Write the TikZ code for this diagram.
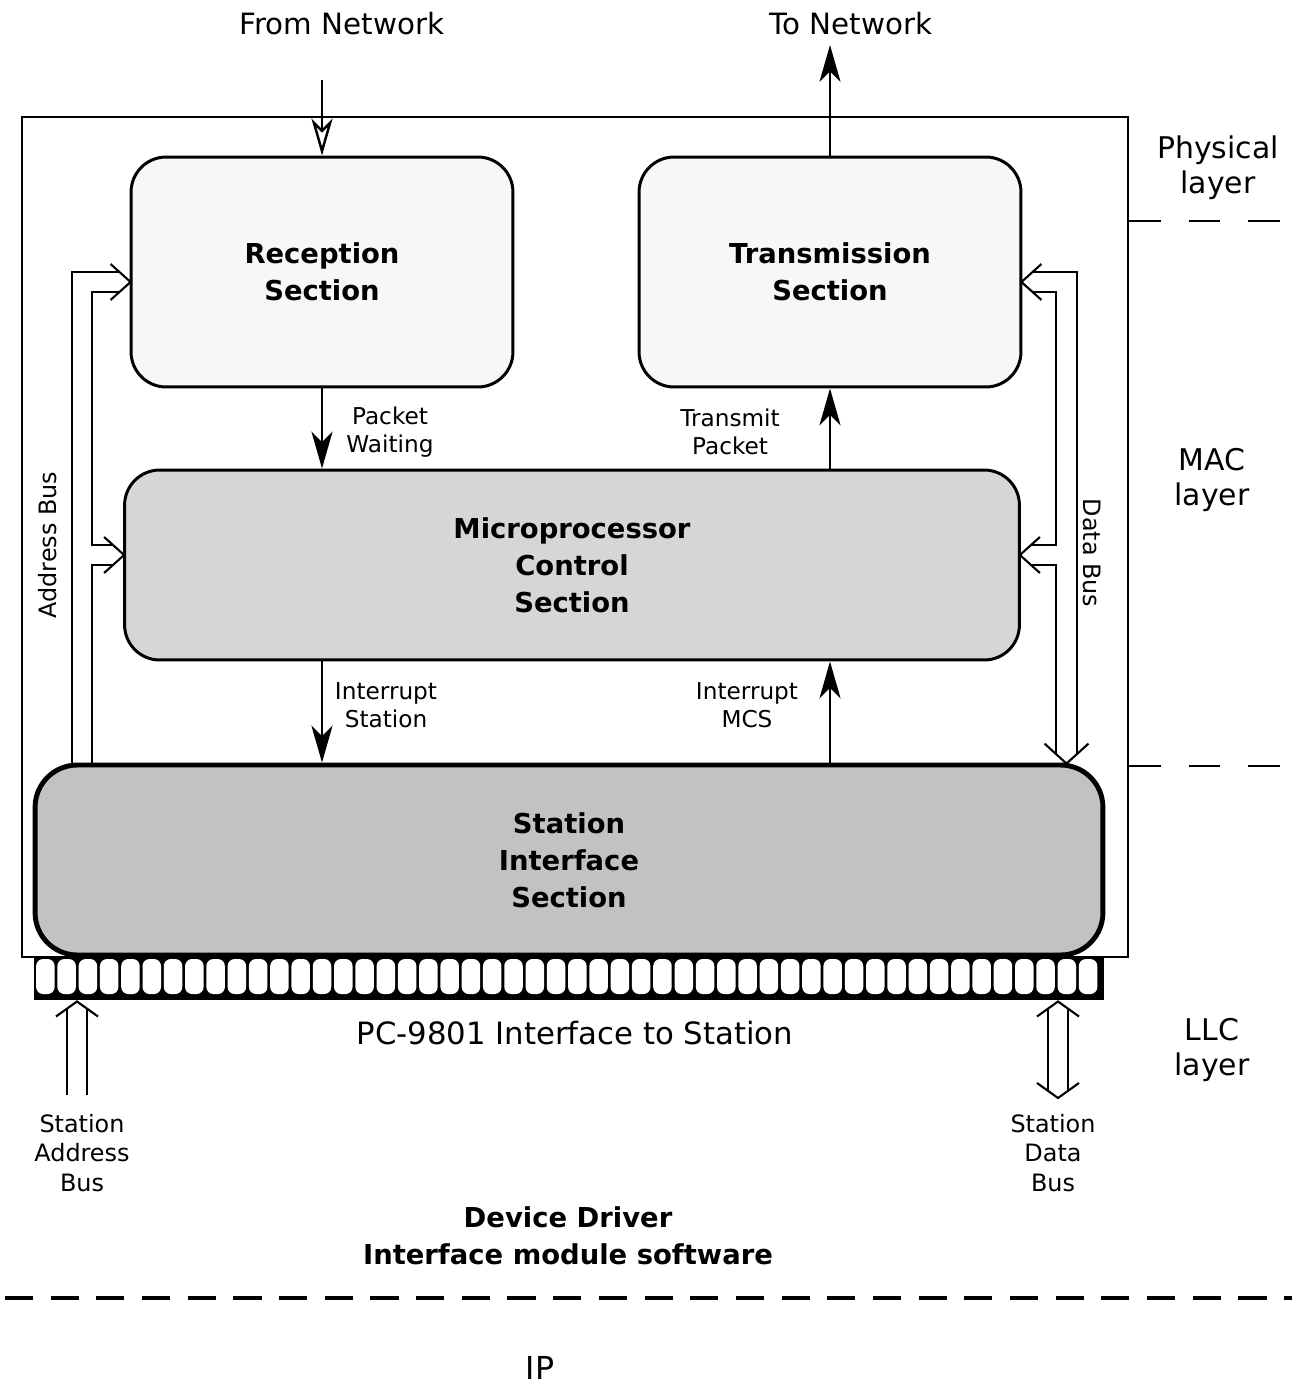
\documentclass[tikz,border=0pt]{standalone}
\usepackage{fontspec}
\setmainfont{DejaVu Sans}
\usepackage{tikz}
\usetikzlibrary{arrows.meta,calc}

\begin{document}
\begin{tikzpicture}[
        x=0.02cm, y=-0.02cm,
        >={Stealth[length=21pt,width=12pt,inset=6pt]},
        % 方框样式定义
        board/.style={draw, line width=1.2pt, minimum width=22.12cm, minimum height=16.8cm},
        section/.style={draw, line width=1.7pt, rounded corners=20pt, align=center, inner sep=0pt,
            font=\bfseries\fontsize{15.6}{21}\selectfont},
        light/.style={section, fill=black!3, minimum width=7.64cm, minimum height=4.6cm},
        % 连线样式定义
        sig/.style={line width=1.4pt},
        bus/.style={line width=1.2pt, line join=miter},
        % 标签样式
        netlabel/.style={font=\fontsize{16.7}{19}\selectfont},
        siglabel/.style={align=center, font=\fontsize{13.2}{15.9}\selectfont},
        layerlabel/.style={align=center, font=\fontsize{17}{20}\selectfont},
        buslabel/.style={align=center, font=\fontsize{13.6}{17}\selectfont},
        sepline/.style={line width=1.2pt, dash pattern=on 18pt off 16pt}
    ]

    \useasboundingbox (0,0) rectangle (1303,1387);

    % 外框与各部分
    \node[board] (board) at (575,537) {};
    \node[light] (rec) at (322,272) {Reception\\Section};
    \node[light] (tra) at (830,272) {Transmission\\Section};
    \node[section, fill=black!16, minimum width=17.9cm, minimum height=3.8cm] (mcs) at (572,565)
        {Microprocessor\\Control\\Section};

    % 接口插座
    \node[draw, line width=1.7pt, fill=black, minimum width=21.36cm, minimum height=0.82cm, inner sep=0pt]
        (conn) at (569,977.5) {};
    \foreach \i in {0,...,49}
        \fill[white, rounded corners=4pt] ($(conn.north west)+({2.5+\i*21.28},3.5)$) rectangle ++(18.5,35);

    \node[section, fill=black!24, line width=2.8pt, rounded corners=24pt, minimum width=21.36cm,
        minimum height=3.8cm] (sis) at (569,860) {Station\\Interface\\Section};

    % 网络收发
    \node[netlabel] (fromnet) at (342,24) {From Network};
    \node[netlabel] (tonet) at (851,24) {To Network};
    \coordinate (fromtop) at (322,80);
    \coordinate (totop) at (830,45);
    \draw[sig, -{Stealth[length=21pt,width=12pt,inset=6pt,fill=white]}] (fromtop) -- (rec.north);
    \draw[sig, ->] (tra.north) -- (totop);

    % 内部信号
    \draw[sig, ->] (rec.south) -- (rec.south |- mcs.north);
    \draw[sig, ->] (tra.south |- mcs.north) -- (tra.south);
    \draw[sig, ->] (rec.south |- mcs.south) -- (rec.south |- sis.north);
    \draw[sig, ->] (tra.south |- sis.north) -- (tra.south |- mcs.south);
    \node[siglabel] (pktwait) at (390,432) {Packet\\Waiting};
    \node[siglabel] (txpkt) at (730,432) {Transmit\\Packet};
    \node[siglabel] (intsta) at (386,705) {Interrupt\\Station};
    \node[siglabel] (intmcs) at (747,705) {Interrupt\\MCS};

    % 地址总线
    \coordinate (ao) at (72,0);
    \coordinate (ai) at (92,0);
    \coordinate (t1) at ($(rec.west)+(1,10)$);
    \coordinate (t2) at ($(mcs.west)+(1,-10)$);
    \coordinate (t1u) at ($(t1)+(-11,-10)$);
    \coordinate (t1l) at ($(t1)+(-11,10)$);
    \coordinate (t2u) at ($(t2)+(-11,-10)$);
    \coordinate (t2l) at ($(t2)+(-11,10)$);
    \draw[bus] ([shift={(-20,-18)}]t1) -- (t1) -- ([shift={(-20,18)}]t1);
    \draw[bus] ([shift={(-20,-18)}]t2) -- (t2) -- ([shift={(-20,18)}]t2);
    \draw[bus] (sis.north -| ao) |- (t1u);
    \draw[bus] (t1l) -| (ai |- t2u) -- (t2u);
    \draw[bus] (t2l) -| (sis.north -| ai);
    \node[buslabel, rotate=90] (abus) at (48,545) {Address Bus};

    % 数据总线
    \coordinate (t3) at ($(tra.east)+(-1,10)$);
    \coordinate (t4) at ($(mcs.east)+(-1,-10)$);
    \coordinate (t5) at ($(sis.north)+(497.5,1)$);
    \coordinate (t3u) at ($(t3)+(11,-10)$);
    \coordinate (t3l) at ($(t3)+(11,10)$);
    \coordinate (t4u) at ($(t4)+(11,-10)$);
    \coordinate (t4l) at ($(t4)+(11,10)$);
    \coordinate (t5o) at ($(t5)+(10.5,-9.5)$);
    \coordinate (t5i) at ($(t5)+(-10.5,-9.5)$);
    \draw[bus] ([shift={(20,-18)}]t3) -- (t3) -- ([shift={(20,18)}]t3);
    \draw[bus] ([shift={(20,-18)}]t4) -- (t4) -- ([shift={(20,18)}]t4);
    \draw[bus] ([shift={(-22,-20)}]t5) -- (t5) -- ([shift={(22,-20)}]t5);
    \draw[bus] (t3u) -| (t5o);
    \draw[bus] (t3l) -| (t5i |- t4u) -- (t4u);
    \draw[bus] (t4l) -| (t5i);
    \node[buslabel, rotate=-90] (dbus) at (1092,553) {Data Bus};

    % 站点总线
    \coordinate (saend) at (77,1095);
    \coordinate (sdend) at (1058,1098);
    \coordinate (sa) at ($(conn.south -| saend)+(0,2)$);
    \coordinate (sd) at ($(conn.south -| sdend)+(0,2)$);
    \draw[bus] ([shift={(-21,15)}]sa) -- (sa) -- ([shift={(21,15)}]sa);
    \draw[bus] ([shift={(-10,7)}]sa) -- ([shift={(-10,0)}]saend);
    \draw[bus] ([shift={(10,7)}]sa) -- ([shift={(10,0)}]saend);
    \draw[bus] ([shift={(-21,15)}]sd) -- (sd) -- ([shift={(21,15)}]sd);
    \draw[bus] ([shift={(-21,-15)}]sdend) -- (sdend) -- ([shift={(21,-15)}]sdend);
    \draw[bus] ([shift={(-10,7)}]sd) -- ([shift={(-10,-7)}]sdend);
    \draw[bus] ([shift={(10,7)}]sd) -- ([shift={(10,-7)}]sdend);
    \node[buslabel] (sabus) at (82,1153) {Station\\Address\\Bus};
    \node[buslabel] (sdbus) at (1053,1153) {Station\\Data\\Bus};
    \node[font=\fontsize{17.5}{20}\selectfont] (pcif) at (575,1033) {PC-9801 Interface to Station};

    % 分层标签
    \node[layerlabel] (phy) at (1218,168) {Physical\\layer};
    \node[layerlabel] (mac) at (1212,480) {MAC\\layer};
    \node[layerlabel] (llc) at (1212,1050) {LLC\\layer};
    \draw[sepline] (board.east |- 0,221) -- (1290,221);
    \draw[sepline] (board.east |- 0,766) -- (1290,766);

    % 底部软件层
    \node[align=center, font=\bfseries\fontsize{15.6}{21}\selectfont] (drv) at (568,1236)
        {Device Driver\\Interface module software};
    \draw[line width=2.3pt, dash pattern=on 16pt off 10pt] (5,1298) -- (1292,1298);
    \node[font=\fontsize{18}{20}\selectfont] (ip) at (540,1368) {IP};

\end{tikzpicture}
\end{document}
